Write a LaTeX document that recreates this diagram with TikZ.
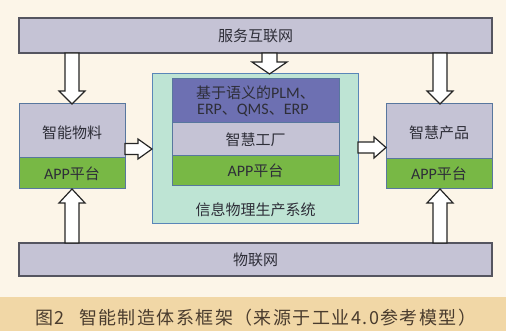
\documentclass[tikz,border=0pt]{standalone}
\usepackage{fontspec}
\setmainfont{Noto Sans CJK SC}
\newfontfamily\latinf{Carlito}
\newfontfamily\capfont[LetterSpace=8]{Noto Sans CJK SC}
\usetikzlibrary{calc}
\definecolor{bgc}{HTML}{FCF5E8}
\definecolor{capc}{HTML}{F1D7A6}
\definecolor{barc}{HTML}{C5C3D5}
\definecolor{greenc}{HTML}{78B845}
\definecolor{darkb}{HTML}{6D70B2}
\definecolor{outerc}{HTML}{BEE4D4}
\definecolor{outerb}{HTML}{5A86B8}
\definecolor{linec}{HTML}{555560}
\definecolor{txtc}{HTML}{2E2E38}
\definecolor{captxt}{HTML}{4A3C2E}
\tikzset{
  bar/.style={draw=linec, line width=1.2pt, fill=barc},
  grayfill/.style={draw=outerb!70!linec, line width=1pt, fill=barc},
  greenfill/.style={draw=outerb!70!linec, line width=1pt, fill=greenc},
  blockarrow/.style={draw=black!85, line width=1.2pt, fill=white, line join=miter},
  lbl/.style={text=txtc, font=\fontsize{15}{17}\selectfont, inner sep=0pt},
}
\newcommand\lat[1]{{\latinf\fontsize{16}{17}\selectfont #1}}
\begin{document}
\begin{tikzpicture}[x=1pt,y=-1pt]
\fill[bgc] (0,0) rectangle (506,331);
\useasboundingbox (0,0) rectangle (506,331);
\fill[capc] (0,297) rectangle (506,331);

% bars
\draw[bar] (19,18) rectangle (492,53);
\node[lbl] (top) at (255.5,35.5) {服务互联网};
\draw[bar] (19,243) rectangle (492,276);
\node[lbl] (bot) at (255.5,259.5) {物联网};

% left box
\draw[grayfill] (19,104) rectangle (125,158);
\draw[greenfill] (19,158) rectangle (125,189);
\node[lbl] (lm) at (72,133) {智能物料};
\node[lbl] (la) at (72,173.5) {\lat{APP}平台};

% right box
\draw[grayfill] (386,104) rectangle (492,159);
\draw[greenfill] (386,159) rectangle (492,189);
\node[lbl] (rm) at (439,133) {智慧产品};
\node[lbl] (ra) at (439,174) {\lat{APP}平台};

% center
\draw[draw=outerb, line width=1pt, fill=outerc] (152,74) rectangle (358,224);
\draw[draw=outerb!70!linec, line width=1pt, fill=darkb] (172,79) rectangle (339,123);
\draw[grayfill] (172,123) rectangle (339,156);
\draw[greenfill] (172,156) rectangle (339,186);
\node[lbl, anchor=west] (ct1) at (196,92.5) {基于语义的\lat{PLM}、};
\node[lbl, anchor=west] (ct2) at (197,110) {\lat{ERP}、\lat{QMS}、\lat{ERP}};
\node[lbl] (cm) at (255.5,140) {智慧工厂};
\node[lbl] (ca) at (255.5,171) {\lat{APP}平台};
\node[lbl] (cl) at (255.5,210) {信息物理生产系统};

% arrows down from top bar
\draw[blockarrow] (65,53) -- (79,53) -- (79,91) -- (85,91) -- (72,104) -- (59,91) -- (65,91) -- cycle;
\draw[blockarrow] (433,53) -- (447,53) -- (447,91) -- (453,91) -- (440,104) -- (427,91) -- (433,91) -- cycle;
\draw[blockarrow] (262,53) -- (277,53) -- (277,62) -- (287,62) -- (269.5,74) -- (252,62) -- (262,62) -- cycle;
% arrows up from bottom bar
\draw[blockarrow] (65,243) -- (79,243) -- (79,203) -- (85,203) -- (72,189) -- (59,203) -- (65,203) -- cycle;
\draw[blockarrow] (433,243) -- (447,243) -- (447,203) -- (453,203) -- (440,189) -- (427,203) -- (433,203) -- cycle;
% side arrows
\draw[blockarrow] (125,143.5) -- (138,143.5) -- (138,139) -- (152,149) -- (138,159) -- (138,154.5) -- (125,154.5) -- cycle;
\draw[blockarrow] (358,142) -- (374,142) -- (374,137) -- (386,147.5) -- (374,158) -- (374,153) -- (358,153) -- cycle;

% caption
\node[anchor=west, text=captxt, font=\fontsize{18}{20}\capfont, inner sep=0pt] (cap) at (35,318) {图2\hspace{0.8em}智能制造体系框架（来源于工业4.0参考模型）};
\end{tikzpicture}
\end{document}
